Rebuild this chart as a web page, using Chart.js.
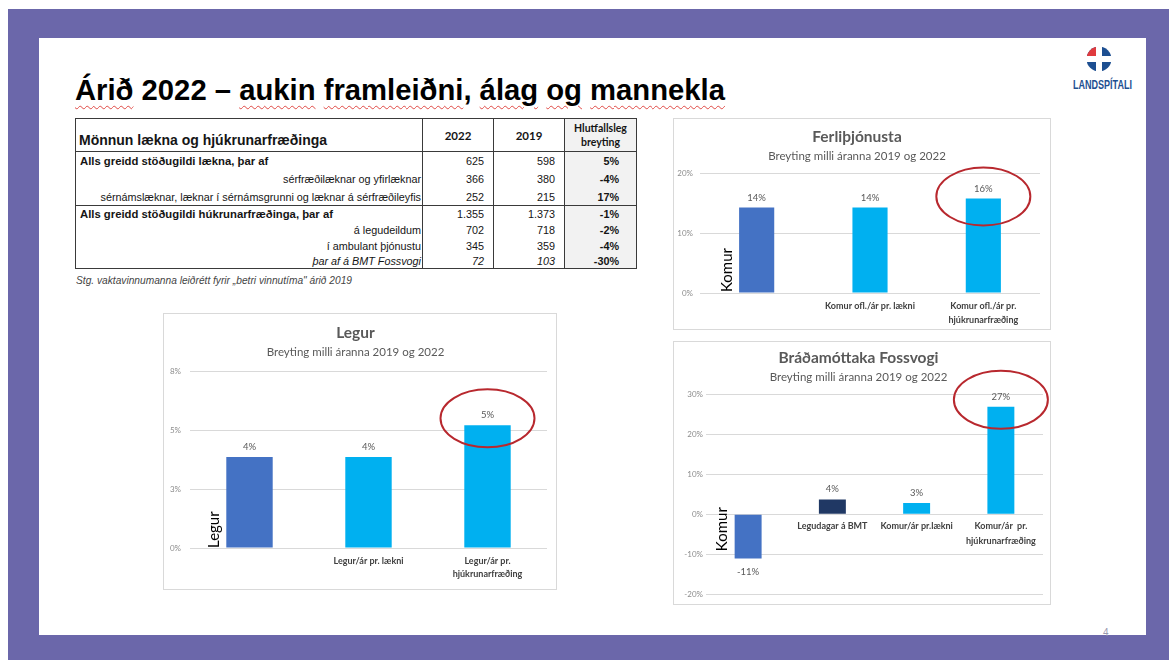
<!DOCTYPE html>
<html>
<head>
<meta charset="utf-8">
<script src="https://cdn.jsdelivr.net/npm/chart.js@4.4.0/dist/chart.umd.min.js"></script>
<style>
html,body{margin:0;padding:0;background:#fff;}
body{width:1169px;height:660px;position:relative;overflow:hidden;font-family:'Liberation Sans',Arial,sans-serif;}
#frame{position:absolute;left:8px;top:9px;right:0;bottom:0;background:#6B67AA;}
#slide{position:absolute;left:39px;top:38px;width:1107px;height:597px;background:#fff;}
#title{position:absolute;left:75px;top:73px;font-size:30px;line-height:34px;font-weight:bold;color:#000;white-space:nowrap;transform-origin:0 0;}
.sp{text-decoration:underline wavy #e04a45;text-decoration-thickness:1px;text-underline-offset:5px;}
#logo{position:absolute;left:1066px;top:46px;}
#logoTxt{position:absolute;left:1073px;top:78px;font-family:'Liberation Sans Narrow','Liberation Sans',sans-serif;font-weight:bold;font-size:12px;color:#1d4f91;white-space:nowrap;transform-origin:0 0;}
#tbl{position:absolute;left:75px;top:118px;border-collapse:collapse;table-layout:fixed;width:561px;font-size:10.8px;color:#151515;border:1px solid #3a3a3a;}
#tbl td{padding:0;white-space:nowrap;overflow:hidden;border-left:1px solid #3a3a3a;border-right:1px solid #3a3a3a;}
#tbl tr.head td{height:29px;border-bottom:1px solid #3a3a3a;}
#tbl tr.sep td{border-top:1px solid #3a3a3a;}
#tbl td.lab{padding-right:1px;text-align:right;}
#tbl td.lab.b{font-weight:bold;text-align:left;padding-left:4px;font-size:11.3px;}
#tbl td.num{text-align:right;padding-right:9px;}
#tbl td.chg{text-align:right;padding-right:17px;font-weight:bold;background:#f2f2f2;}
#tbl tr.it td{font-style:italic;}
#tbl tr.it td.chg{font-style:normal;}
#tbl .hdr{font-size:14px;font-weight:bold;vertical-align:bottom;padding:0 0 3px 3px;}
#tbl .yr{font-family:Lato,sans-serif;font-weight:bold;font-size:11.5px;text-align:center;}
#tbl .hchg{font-family:Lato,sans-serif;font-weight:bold;font-size:10.5px;line-height:14px;text-align:center;background:#f2f2f2;}
#note{position:absolute;left:76px;top:275px;font-size:10.2px;font-style:italic;color:#444;white-space:nowrap;}
.box{position:absolute;border:1px solid #d9d9d9;background:#fff;}
#pnum{position:absolute;left:1103px;top:627px;font-size:10px;color:#9a9ab0;}
</style>
</head>
<body>
<div id="frame"></div>
<div id="slide"></div>
<div id="title"><span class="sp">Árið</span> 2022 – <span class="sp">aukin</span> <span class="sp">framleiðni</span>, <span class="sp">álag</span> <span class="sp">og</span> <span class="sp">mannekla</span></div>

<svg id="logo" width="70" height="30" viewBox="0 0 70 30">
  <circle cx="33" cy="13" r="12.5" fill="#1d4f91"/>
  <path d="M33 13 L33 0.5 A12.5 12.5 0 0 0 20.5 13 Z" fill="#e03a3e"/>
  <rect x="30" y="0" width="6" height="26" fill="#fff"/>
  <rect x="20" y="10" width="26" height="6" fill="#fff"/>
</svg>
<div id="logoTxt">LANDSPÍTALI</div>

<table id="tbl">
  <colgroup><col style="width:347px"><col style="width:71px"><col style="width:71px"><col style="width:72px"></colgroup>
  <tbody id="tbody">
    <tr class="head">
      <td class="hdr">Mönnun lækna og hjúkrunarfræðinga</td>
      <td class="yr" id="hY1"></td>
      <td class="yr" id="hY2"></td>
      <td class="hchg">Hlutfallsleg<br>breyting</td>
    </tr>
  </tbody>
</table>
<div id="note">Stg. vaktavinnumanna leiðrétt fyrir „betri vinnutíma" árið 2019</div>

<div class="box" style="left:673px;top:118px;width:376px;height:210px;"><canvas id="ferli"></canvas></div>
<div class="box" style="left:163px;top:313px;width:392px;height:275px;"><canvas id="legur"></canvas></div>
<div class="box" style="left:673px;top:341px;width:376px;height:262px;"><canvas id="brad"></canvas></div>
<div id="pnum">4</div>

<script>
// ---- table data ----
const yearNew = '2022';
const yearOld = '2019';
const staffRows = [
  'Alls greidd stöðugildi lækna, þar af',
  'sérfræðilæknar og yfirlæknar',
  'sérnámslæknar, læknar í sérnámsgrunni og læknar á sérfræðileyfis',
  'Alls greidd stöðugildi húkrunarfræðinga, þar af',
  'á legudeildum',
  'í ambulant þjónustu',
  'þar af á BMT Fossvogi'
];
const staff2022 = ['625', '366', '252', '1.355', '702', '345', '72'];
const staff2019 = ['598', '380', '215', '1.373', '718', '359', '103'];
const staffChange = ['5%', '-4%', '17%', '-1%', '-2%', '-4%', '-30%'];

// ---- chart data ----
const ferliLabels = ['', 'Komur ofl./ár pr. lækni', ['Komur ofl./ár pr.', 'hjúkrunarfræðing']];
const ferliValues = [14.3, 14.3, 15.8];

const legurLabels = ['', 'Legur/ár pr. lækni', ['Legur/ár pr.', 'hjúkrunarfræðing']];
const legurValues = [3.86, 3.86, 5.21];

const bradLabels = ['', 'Legudagar á BMT', 'Komur/ár pr.lækni', ['Komur/ár  pr.', 'hjúkrunarfræðing']];
const bradValues = [-11.1, 3.7, 2.8, 26.9];

const subTitle = 'Breyting milli áranna 2019 og 2022';

const colors = {
  first: '#4472C4',
  bar: '#00B0F0',
  navy: '#203864',
  grid: '#d9d9d9',
  tick: '#8c8c8c',
  cat: '#404040',
  label: '#595959',
  ring: '#B8282E'
};

// ---- table ----
document.getElementById('hY1').textContent = yearNew;
document.getElementById('hY2').textContent = yearOld;
const tbody = document.getElementById('tbody');
const rowH = [18, 18, 17, 16, 16, 15, 15];
staffRows.forEach((lab, i) => {
  const tr = document.createElement('tr');
  if (i === 3) tr.className = 'sep';
  if (i === 6) tr.classList.add('it');
  const bold = (i === 0 || i === 3);
  tr.innerHTML =
    `<td class="lab${bold ? ' b' : ''}" style="height:${rowH[i]}px">${lab}</td>` +
    `<td class="num">${staff2022[i]}</td>` +
    `<td class="num">${staff2019[i]}</td>` +
    `<td class="chg">${staffChange[i]}</td>`;
  tbody.appendChild(tr);
});

// title / logo width fitting
function fitWidth(id, w){ const el = document.getElementById(id); const r = el.getBoundingClientRect().width; el.style.transform = `scaleX(${w / r})`; }
fitWidth('title', 650);
fitWidth('logoTxt', 59);

// ---- charts ----
Chart.defaults.font.family = 'Lato, sans-serif';
Chart.defaults.animation = false;

const decor = {
  id: 'decor',
  afterDatasetsDraw(chart, args, opts){
    const {ctx} = chart;
    const meta = chart.getDatasetMeta(0);
    const data = chart.data.datasets[0].data;
    ctx.save();
    ctx.font = '9.5px Lato'; ctx.fillStyle = colors.label;
    ctx.textAlign = 'center'; ctx.textBaseline = 'middle';
    meta.data.forEach((bar, i) => {
      const v = data[i];
      ctx.fillText(Math.round(v) + '%', bar.x, v >= 0 ? bar.y - 10 : bar.y + 13);
    });
    // rotated series name next to first bar
    const b0 = meta.data[0];
    const zero = chart.scales.y.getPixelForValue(0);
    ctx.translate(b0.x - b0.width / 2 - 12, zero + opts.nameDy);
    ctx.rotate(-Math.PI / 2);
    ctx.font = '15px Lato'; ctx.fillStyle = '#000'; ctx.textAlign = 'left';
    ctx.fillText(opts.name, 0, 0);
    ctx.restore();
    // red ring around highlighted bar
    const hb = meta.data[opts.ring];
    ctx.save();
    ctx.strokeStyle = colors.ring; ctx.lineWidth = 2;
    ctx.beginPath(); ctx.ellipse(hb.x, hb.y + opts.ringDy, 47, 29, 0, 0, Math.PI * 2); ctx.stroke();
    ctx.restore();
  }
};

function barChart(id, o){
  return new Chart(document.getElementById(id), {
    type: 'bar',
    data: {
      labels: o.labels,
      datasets: [{ data: o.values, backgroundColor: o.barColors, barPercentage: o.barPct, categoryPercentage: 1 }]
    },
    options: {
      responsive: true, maintainAspectRatio: false,
      layout: { padding: { left: 0, right: o.padRight, top: 0, bottom: o.padBottom } },
      plugins: {
        legend: { display: false },
        tooltip: { enabled: false },
        title: { display: true, text: o.title, color: '#595959', font: { size: 15.5, weight: 'bold', lineHeight: 1.2 }, padding: { top: o.titleTop, bottom: 0 } },
        subtitle: { display: true, text: subTitle, color: '#595959', font: { size: 11.5, lineHeight: 1.2 }, padding: { top: 3, bottom: o.subBottom } },
        decor: { name: o.name, nameDy: o.nameDy, ring: o.ring, ringDy: o.ringDy }
      },
      scales: {
        x: {
          position: o.xPos,
          grid: { display: false, drawTicks: false }, border: { display: false },
          ticks: { autoSkip: false, maxRotation: 0, color: colors.cat, padding: o.xPad, font: { size: 9, weight: 'bold', lineHeight: o.xLine } },
          afterFit: o.xHeight ? (s => { s.height = o.xHeight; }) : undefined
        },
        y: {
          min: o.min, max: o.max,
          grid: { color: colors.grid, drawTicks: false }, border: { display: false },
          ticks: { stepSize: o.step, color: colors.tick, padding: o.yPad, font: { size: 8 }, callback: v => Math.round(v) + '%' },
          afterFit: s => { s.width = o.yWidth; }
        }
      }
    },
    plugins: [decor]
  });
}

barChart('ferli', {
  labels: ferliLabels, values: ferliValues, barColors: [colors.first, colors.bar, colors.bar],
  title: 'Ferliþjónusta', titleTop: 9, subBottom: 10,
  min: 0, max: 20, step: 10, yWidth: 26, yPad: 7, padRight: 10, padBottom: 0,
  xPos: 'bottom', xHeight: 36, xPad: 6, xLine: 1.55, barPct: 0.31,
  name: 'Komur', nameDy: -1, ring: 2, ringDy: -2
});

barChart('legur', {
  labels: legurLabels, values: legurValues, barColors: [colors.first, colors.bar, colors.bar],
  title: 'Legur', titleTop: 10, subBottom: 12,
  min: 0, max: 7.5, step: 2.5, yWidth: 26, yPad: 9, padRight: 9, padBottom: 0,
  xPos: 'bottom', xHeight: 41, xPad: 7, xLine: 1.45, barPct: 0.39,
  name: 'Legur', nameDy: 0, ring: 2, ringDy: -7
});

barChart('brad', {
  labels: bradLabels, values: bradValues, barColors: [colors.first, colors.navy, colors.bar, colors.bar],
  title: 'Bráðamóttaka Fossvogi', titleTop: 7, subBottom: 10,
  min: -20, max: 30, step: 10, yWidth: 32, yPad: 3, padRight: 7, padBottom: 10,
  xPos: { y: 0 }, xHeight: 0, xPad: 5, xLine: 1.6, barPct: 0.32,
  name: 'Komur', nameDy: 37, ring: 3, ringDy: -7
});
</script>
</body>
</html>
